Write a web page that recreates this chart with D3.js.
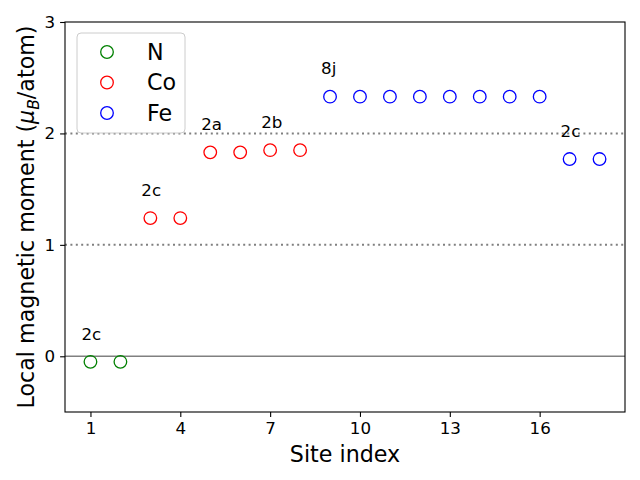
<!DOCTYPE html>
<html>
<head>
<meta charset="utf-8">
<script src="https://cdn.jsdelivr.net/npm/d3@7"></script>
<style>
  body { margin: 0; background: #fff; }
  svg { font-family: "DejaVu Sans", sans-serif; }
</style>
</head>
<body>
<svg id="chart" width="640" height="480"></svg>
<script>
// site data
const elements = ['N', 'Co', 'Fe'];
const elementColors = ['green', 'red', 'blue'];
const siteIndex = [1, 2, 3, 4, 5, 6, 7, 8, 9, 10, 11, 12, 13, 14, 15, 16, 17, 18];
const siteElement = ['N', 'N', 'Co', 'Co', 'Co', 'Co', 'Co', 'Co',
  'Fe', 'Fe', 'Fe', 'Fe', 'Fe', 'Fe', 'Fe', 'Fe', 'Fe', 'Fe'];
const siteMoment = [-0.05, -0.05, 1.24, 1.24, 1.83, 1.83, 1.85, 1.85,
  2.33, 2.33, 2.33, 2.33, 2.33, 2.33, 2.33, 2.33, 1.77, 1.77];

// Wyckoff labels: placed at the first site of each group
const wyckoffLabels = ['2c', '2c', '2a', '2b', '8j', '2c'];
const wyckoffSite = [1, 3, 5, 7, 9, 17];

const xTicks = [1, 4, 7, 10, 13, 16];
const yTicks = [0, 1, 2, 3];
const refLines = [1, 2];

const svg = d3.select('#chart');
const margin = { left: 65, right: 15, top: 22, bottom: 68 };
const width = 640 - margin.left - margin.right;
const height = 480 - margin.top - margin.bottom;

const x = d3.scaleLinear().domain([0.15, 18.85]).range([0, width]);
const y = d3.scaleLinear().domain([-0.5, 3]).range([height, 0]);
const color = d3.scaleOrdinal().domain(elements).range(elementColors);

const g = svg.append('g').attr('transform', `translate(${margin.left},${margin.top})`);

// reference lines
g.append('line')
  .attr('x1', 0).attr('x2', width)
  .attr('y1', y(0)).attr('y2', y(0))
  .style('stroke', 'gray').style('stroke-width', 1.5);

g.selectAll('.ref-line')
  .data(refLines)
  .enter().append('line')
  .attr('class', 'ref-line')
  .attr('x1', 0).attr('x2', width)
  .attr('y1', d => y(d)).attr('y2', d => y(d))
  .style('stroke', 'gray')
  .style('stroke-width', 2)
  .style('stroke-dasharray', '2,3.4');

// points
g.selectAll('.site')
  .data(siteIndex)
  .enter().append('circle')
  .attr('class', 'site')
  .attr('cx', d => x(d))
  .attr('cy', (d, i) => y(siteMoment[i]))
  .attr('r', 6.3)
  .style('fill', 'none')
  .style('stroke', (d, i) => color(siteElement[i]))
  .style('stroke-width', 1.3);

// wyckoff annotations (offset like text(x-0.3, y+0.2))
g.selectAll('.wyckoff')
  .data(wyckoffLabels)
  .enter().append('text')
  .attr('class', 'wyckoff')
  .attr('x', (d, i) => x(wyckoffSite[i] - 0.3))
  .attr('y', (d, i) => y(siteMoment[wyckoffSite[i] - 1] + 0.2))
  .style('font-size', '16.7px')
  .text(d => d);

// axes
const xAxis = g.append('g')
  .attr('transform', `translate(0,${height})`)
  .call(d3.axisBottom(x).tickValues(xTicks).tickFormat(d3.format('d'))
    .tickSize(4.9).tickPadding(4.9).tickSizeOuter(0));
const yAxis = g.append('g')
  .call(d3.axisLeft(y).tickValues(yTicks).tickFormat(d3.format('d'))
    .tickSize(4.9).tickPadding(4.9).tickSizeOuter(0));

[xAxis, yAxis].forEach(a => {
  a.selectAll('text').style('font-size', '16.7px').style('font-family', '"DejaVu Sans", sans-serif').attr('fill', '#000');
  a.selectAll('line').style('stroke', '#000').style('stroke-width', 1.1);
  a.select('.domain').remove();
});

// frame
g.append('rect')
  .attr('width', width).attr('height', height)
  .style('fill', 'none').style('stroke', '#000').style('stroke-width', 1.1);

// axis labels
svg.append('text')
  .attr('x', margin.left + width / 2)
  .attr('y', 462)
  .attr('text-anchor', 'middle')
  .style('font-size', '22.2px')
  .text('Site index');

const yl = svg.append('text')
  .attr('transform', `translate(34,${margin.top + height / 2}) rotate(-90)`)
  .attr('text-anchor', 'middle')
  .style('font-size', '22.2px');
yl.append('tspan').text('Local magnetic moment (');
yl.append('tspan').style('font-style', 'italic').text('μ');
yl.append('tspan').style('font-style', 'italic').style('font-size', '15.5px').attr('dy', 5).text('B');
yl.append('tspan').attr('dy', -5).text('/atom)');

// legend
const legend = g.append('g').attr('transform', 'translate(12,11)');
legend.append('rect')
  .attr('width', 108).attr('height', 100)
  .attr('rx', 4)
  .style('fill', 'white').style('fill-opacity', 0.8)
  .style('stroke', '#cccccc').style('stroke-width', 1);

const item = legend.selectAll('.item')
  .data(elements)
  .enter().append('g')
  .attr('class', 'item')
  .attr('transform', (d, i) => `translate(0,${19 + i * 30.5})`);

item.append('circle')
  .attr('cx', 30).attr('r', 6.3)
  .style('fill', 'none')
  .style('stroke', d => color(d))
  .style('stroke-width', 1.3);

item.append('text')
  .attr('x', 70).attr('dy', '0.35em')
  .style('font-size', '22.2px')
  .text(d => d);
</script>
</body>
</html>
